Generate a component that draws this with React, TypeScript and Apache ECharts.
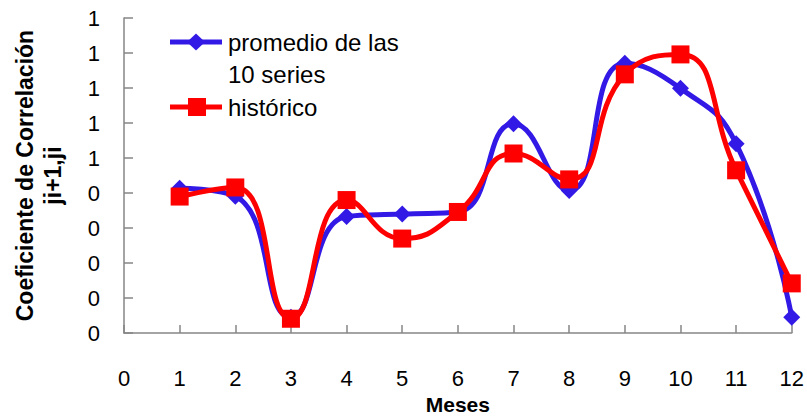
import React, { useEffect, useRef } from "react";
import * as echarts from "echarts";

const months = [1, 2, 3, 4, 5, 6, 7, 8, 9, 10, 11, 12];
const promedio = [0.414, 0.391, 0.045, 0.333, 0.34, 0.346, 0.598, 0.407, 0.771, 0.699, 0.541, 0.045];
const historico = [0.39, 0.416, 0.041, 0.38, 0.27, 0.346, 0.513, 0.439, 0.739, 0.796, 0.465, 0.142];
const seriesNames = ["promedio de las", "10 series", "histórico"];
const yTitle = "Coeficiente de Correlación\nji+1,ji";
const xTitle = "Meses";

const BLUE = "#3319E6";
const RED = "#FF0000";
const AXIS = "#868686";
const FONT = "Liberation Sans";

export default function App() {
  const ref = useRef<HTMLDivElement>(null);
  useEffect(() => {
    if (!ref.current) return;
    const chart = echarts.init(ref.current, null, { renderer: "svg" });
    chart.setOption({
      animation: false,
      backgroundColor: "#ffffff",
      grid: { left: 124, right: 15, top: 18, bottom: 84, containLabel: false },
      xAxis: {
        type: "value",
        min: 0,
        max: 12,
        interval: 1,
        name: xTitle,
        nameLocation: "middle",
        nameGap: 60,
        nameTextStyle: { fontFamily: FONT, fontSize: 21, fontWeight: "bold", color: "#000" },
        axisLine: { show: true, onZero: false, lineStyle: { color: AXIS, width: 1.5 } },
        axisTick: { show: true, inside: true, length: 8, lineStyle: { color: AXIS, width: 1.5 } },
        axisLabel: { margin: 34, fontFamily: FONT, fontSize: 22, color: "#000" },
        splitLine: { show: false },
      },
      yAxis: {
        type: "value",
        min: 0,
        max: 0.9,
        interval: 0.1,
        name: yTitle,
        nameLocation: "middle",
        nameGap: 57,
        nameRotate: 90,
        nameTextStyle: { fontFamily: FONT, fontSize: 23, fontWeight: "bold", color: "#000", lineHeight: 28, align: "center" },
        axisLine: { show: true, lineStyle: { color: AXIS, width: 1.5 } },
        axisTick: { show: true, inside: true, length: 9, lineStyle: { color: AXIS, width: 1.5 } },
        axisLabel: {
          margin: 24,
          fontFamily: FONT,
          fontSize: 22,
          color: "#000",
          formatter: (v: number) => String(Math.round(v + 1e-9)),
        },
        splitLine: { show: false },
      },
      series: [
        {
          name: seriesNames[0] + " " + seriesNames[1],
          type: "line",
          smooth: 0.5,
          data: months.map((m, i) => [m, promedio[i]]),
          lineStyle: { color: BLUE, width: 5 },
          itemStyle: { color: BLUE },
          symbol: "diamond",
          symbolSize: 17,
          z: 2,
        },
        {
          name: seriesNames[2],
          type: "line",
          smooth: 0.5,
          data: months.map((m, i) => [m, historico[i]]),
          lineStyle: { color: RED, width: 5 },
          itemStyle: { color: RED },
          symbol: "rect",
          symbolSize: 18,
          z: 3,
        },
      ],
      graphic: [
        { type: "line", shape: { x1: 170, y1: 42, x2: 222, y2: 42 }, style: { stroke: BLUE, lineWidth: 5 } },
        { type: "polygon", shape: { points: [[196, 33.5], [205, 42], [196, 50.5], [187, 42]] }, style: { fill: BLUE } },
        { type: "text", x: 228, y: 42, style: { text: seriesNames[0], fontFamily: FONT, fontSize: 24, fill: "#000", verticalAlign: "middle" } },
        { type: "text", x: 228, y: 74, style: { text: seriesNames[1], fontFamily: FONT, fontSize: 24, fill: "#000", verticalAlign: "middle" } },
        { type: "line", shape: { x1: 170, y1: 107, x2: 222, y2: 107 }, style: { stroke: RED, lineWidth: 5 } },
        { type: "rect", shape: { x: 188, y: 98, width: 18, height: 18 }, style: { fill: RED } },
        { type: "text", x: 228, y: 107, style: { text: seriesNames[2], fontFamily: FONT, fontSize: 24, fill: "#000", verticalAlign: "middle" } },
      ],
    });
    return () => chart.dispose();
  }, []);
  return <div ref={ref} style={{ width: 807, height: 420, position: "absolute", left: 0, top: 0 }} />;
}
